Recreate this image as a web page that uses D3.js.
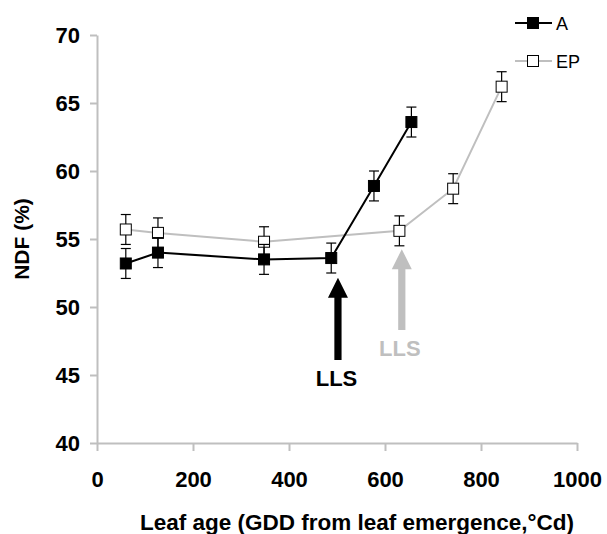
<!DOCTYPE html>
<html><head><meta charset="utf-8">
<script src="https://cdn.jsdelivr.net/npm/d3@7"></script>
<style>body{margin:0;background:#fff}svg{display:block}</style>
</head><body>
<script>
const gddA = [60, 127, 348, 488, 577, 655];
const ndfA = [53.2, 54.0, 53.5, 53.6, 58.9, 63.6];
const errA = [1.1, 1.1, 1.1, 1.1, 1.1, 1.1];
const gddEP = [60, 127, 348, 630, 742, 843];
const ndfEP = [55.7, 55.45, 54.8, 55.6, 58.7, 66.2];
const errEP = [1.1, 1.1, 1.1, 1.1, 1.1, 1.1];
const xTicks = [0, 200, 400, 600, 800, 1000];
const yTicks = [40, 45, 50, 55, 60, 65, 70];
const seriesNames = ["A", "EP"];
const arrowGdd = [502, 635];
const arrowTip = [52.15, 54.25];
const arrowBase = [46.1, 48.3];
const arrowLabel = ["LLS", "LLS"];
const labelGdd = [499, 631];
const labelY = [44.2, 46.4];

const W = 607, H = 534;
const m = {l: 97, t: 35, r: 30, b: 91};
const gray = "#bfbfbf";
const font = "'Liberation Sans', Arial, sans-serif";

const svg = d3.select("body").append("svg").attr("width", W).attr("height", H)
  .style("font-family", font);

const x = d3.scaleLinear().domain([0, 1000]).range([m.l, W - m.r]);
const y = d3.scaleLinear().domain([40, 70]).range([H - m.b, m.t]);

// axes
const gx = svg.append("g").attr("transform", `translate(0,${H - m.b})`)
  .call(d3.axisBottom(x).tickValues(xTicks).tickFormat(d3.format("d")).tickSize(8).tickSizeOuter(0).tickPadding(20));
const gy = svg.append("g").attr("transform", `translate(${m.l},0)`)
  .call(d3.axisLeft(y).tickValues(yTicks).tickSize(7).tickSizeOuter(0).tickPadding(10));
[gx, gy].forEach(g => {
  g.select(".domain").attr("stroke", gray).attr("stroke-width", 2);
  g.selectAll(".tick line").attr("stroke", gray).attr("stroke-width", 2);
  g.selectAll(".tick text").attr("fill", "#000").style("font-size", "22px")
    .style("font-weight", "bold").style("font-family", font);
});

// titles
svg.append("text").attr("x", (m.l + W - m.r) / 2 + 20).attr("y", 530)
  .attr("text-anchor", "middle").style("font-size", "22.5px").style("font-weight", "bold")
  .text("Leaf age (GDD from leaf emergence,°Cd)");
svg.append("text").attr("transform", `translate(29,${(m.t + H - m.b) / 2}) rotate(-90)`)
  .attr("text-anchor", "middle").style("font-size", "21px").style("font-weight", "bold")
  .text("NDF (%)");

// series
const series = [
  {name: seriesNames[1], gdd: gddEP, v: ndfEP, e: errEP, line: gray, fill: "#fff"},
  {name: seriesNames[0], gdd: gddA, v: ndfA, e: errA, line: "#000", fill: "#000"}
];
const line = d3.line().x(d => x(d[0])).y(d => y(d[1]));
series.forEach(s => {
  const pts = s.gdd.map((g, i) => [g, s.v[i], s.e[i]]);
  const g = svg.append("g");
  g.append("path").attr("d", line(pts)).attr("fill", "none").attr("stroke", s.line).attr("stroke-width", 2);
  const eb = g.selectAll(".eb").data(pts).enter().append("g");
  eb.append("line").attr("x1", d => x(d[0])).attr("x2", d => x(d[0]))
    .attr("y1", d => y(d[1] - d[2])).attr("y2", d => y(d[1] + d[2])).attr("stroke", "#000").attr("stroke-width", 1.2);
  [-1, 1].forEach(sg => eb.append("line").attr("x1", d => x(d[0]) - 5).attr("x2", d => x(d[0]) + 5)
    .attr("y1", d => y(d[1] + sg * d[2])).attr("y2", d => y(d[1] + sg * d[2])).attr("stroke", "#000").attr("stroke-width", 1.2));
  g.selectAll("rect").data(pts).enter().append("rect")
    .attr("x", d => x(d[0]) - 5.5).attr("y", d => y(d[1]) - 5.5).attr("width", 11).attr("height", 11)
    .attr("fill", s.fill).attr("stroke", "#000").attr("stroke-width", 1);
});

// arrows
const arrowColor = ["#000", gray];
arrowGdd.forEach((g, i) => {
  const cx = x(g), ty = y(arrowTip[i]), by = y(arrowBase[i]);
  const hh = 20, hw = 10, sw = 3.6;
  const p = d3.path();
  p.moveTo(cx, ty); p.lineTo(cx + hw, ty + hh); p.lineTo(cx + sw, ty + hh); p.lineTo(cx + sw, by);
  p.lineTo(cx - sw, by); p.lineTo(cx - sw, ty + hh); p.lineTo(cx - hw, ty + hh); p.closePath();
  svg.append("path").attr("d", p.toString()).attr("fill", arrowColor[i]);
  svg.append("text").attr("x", x(labelGdd[i])).attr("y", y(labelY[i])).attr("text-anchor", "middle")
    .style("font-size", "22px").style("font-weight", "bold").attr("fill", arrowColor[i]).text(arrowLabel[i]);
});

// legend
const leg = [
  {name: seriesNames[0], line: "#000", fill: "#000", yy: 23},
  {name: seriesNames[1], line: gray, fill: "#fff", yy: 61}
];
leg.forEach(l => {
  svg.append("line").attr("x1", 515).attr("x2", 552).attr("y1", l.yy).attr("y2", l.yy).attr("stroke", l.line).attr("stroke-width", 2);
  svg.append("rect").attr("x", 533 - 5.5).attr("y", l.yy - 5.5).attr("width", 11).attr("height", 11)
    .attr("fill", l.fill).attr("stroke", "#000").attr("stroke-width", 1);
  svg.append("text").attr("x", 556).attr("y", l.yy + 6.5).style("font-size", "18px").text(l.name);
});
</script>
</body></html>
